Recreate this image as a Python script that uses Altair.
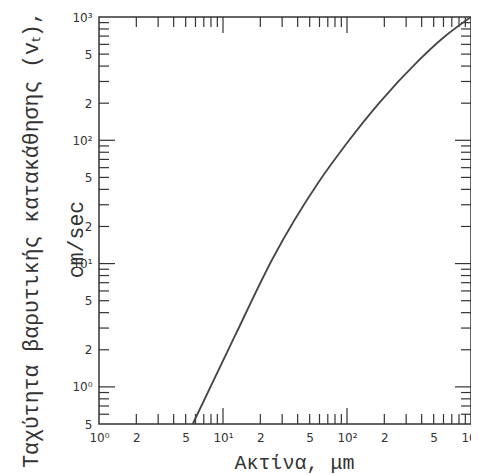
import altair as alt
import pandas as pd

# Curve (radius in µm, settling velocity in cm/sec)
radius_um = [5.7, 12.5, 25.3, 58.4, 100, 185, 367, 594, 1000]
velocity_cms = [0.5, 2.6, 11.1, 45, 95, 205, 431, 676, 1000]

# Axis labels
x_label_values = [1, 2, 5, 10, 20, 50, 100, 200, 500, 1000]
x_label_texts = ["10⁰", "2", "5", "10¹", "2", "5", "10²", "2", "5", "10³"]
y_label_values = [0.5, 1, 2, 5, 10, 20, 50, 100, 200, 500, 1000]
y_label_texts = ["5", "10⁰", "2", "5", "10¹", "2", "5", "10²", "2", "5", "10³"]

# Tick marks (inward, on all four sides)
x_minor_ticks = [2, 3, 4, 5, 6, 7, 8, 9, 20, 30, 40, 50, 60, 70, 80, 90,
                 200, 300, 400, 500, 600, 700, 800, 900]
x_major_ticks = [10, 100]
y_minor_ticks = [0.6, 0.7, 0.8, 0.9, 2, 3, 4, 5, 6, 7, 8, 9,
                 20, 30, 40, 50, 60, 70, 80, 90, 200, 300, 400, 500, 600, 700, 800, 900]
y_major_ticks = [1, 10, 100]

x_title = "Ακτίνα, μm"
y_title = ["Ταχύτητα βαρυτικής κατακάθησης (vₜ),", "cm/sec"]

W, H = 372, 407
MINOR, MAJOR = 10, 16
X_MIN, X_MAX, Y_MIN, Y_MAX = 1, 1000, 0.5, 1000
PX_PER_DECADE_X, PX_PER_DECADE_Y = 124.0, 123.3
INK = "#333333"


def label_expr(values, texts):
    expr = "''"
    for v, t in reversed(list(zip(values, texts))):
        expr = f"(abs(datum.value - {v}) < {v} * 0.001) ? '{t}' : ({expr})"
    return expr


# one table holding every tick segment (inward ticks on all four sides)
rows = []
for vals, length in ((x_minor_ticks, MINOR), (x_major_ticks, MAJOR)):
    fy = 10 ** (length / PX_PER_DECADE_Y)
    for t in vals:
        rows.append({"x1": t, "x2": t, "y1": Y_MIN, "y2": Y_MIN * fy})
        rows.append({"x1": t, "x2": t, "y1": Y_MAX, "y2": Y_MAX / fy})
for vals, length in ((y_minor_ticks, MINOR), (y_major_ticks, MAJOR)):
    fx = 10 ** (length / PX_PER_DECADE_X)
    for t in vals:
        rows.append({"x1": X_MIN, "x2": X_MIN * fx, "y1": t, "y2": t})
        rows.append({"x1": X_MAX, "x2": X_MAX / fx, "y1": t, "y2": t})
ticks_df = pd.DataFrame(rows)

xscale = alt.Scale(type="log", domain=[X_MIN, X_MAX], nice=False)
yscale = alt.Scale(type="log", domain=[Y_MIN, Y_MAX], nice=False)

curve_df = pd.DataFrame({"r": radius_um, "v": velocity_cms})

x_axis = alt.Axis(
    values=x_label_values, labelExpr=label_expr(x_label_values, x_label_texts),
    ticks=False, domain=False, grid=False, labelPadding=8, labelFontSize=12,
    labelFont="DejaVu Sans", labelColor=INK, labelFlush=False, labelOverlap=False,
    title=x_title, titleFont="Liberation Mono", titleFontSize=20,
    titleFontWeight="normal", titleColor=INK, titleX=195, titleY=44,
    titleBaseline="alphabetic",
)
y_axis = alt.Axis(
    values=y_label_values, labelExpr=label_expr(y_label_values, y_label_texts),
    ticks=False, domain=False, grid=False, labelPadding=7, labelFontSize=12,
    labelFont="DejaVu Sans", labelColor=INK, labelFlush=False, labelOverlap=False,
    title=y_title, titleFont="Liberation Mono", titleFontSize=21.5,
    titleFontWeight="normal", titleColor=INK, titleX=-62, titleY=222,
    titleBaseline="alphabetic", titleAngle=270, titleAlign="center",
    titleLineHeight=45,
)

ticks = alt.Chart(ticks_df).mark_rule(color=INK, strokeWidth=1.2).encode(
    x=alt.X("x1:Q", scale=xscale, axis=x_axis),
    x2="x2:Q",
    y=alt.Y("y1:Q", scale=yscale, axis=y_axis),
    y2="y2:Q",
)

line = alt.Chart(curve_df).mark_line(
    color="#444444", strokeWidth=1.8, interpolate="monotone"
).encode(
    x=alt.X("r:Q", scale=xscale, axis=x_axis),
    y=alt.Y("v:Q", scale=yscale, axis=y_axis),
)

chart = alt.layer(ticks, line).properties(
    width=W, height=H,
    background="white",
    autosize=alt.AutoSizeParams(type="none"),
    padding={"left": 91, "top": 9, "right": 0, "bottom": 50},
).configure_view(
    stroke=INK, strokeWidth=1.5
)

chart.save("out.html", embed_options={"renderer": "svg", "actions": False})
